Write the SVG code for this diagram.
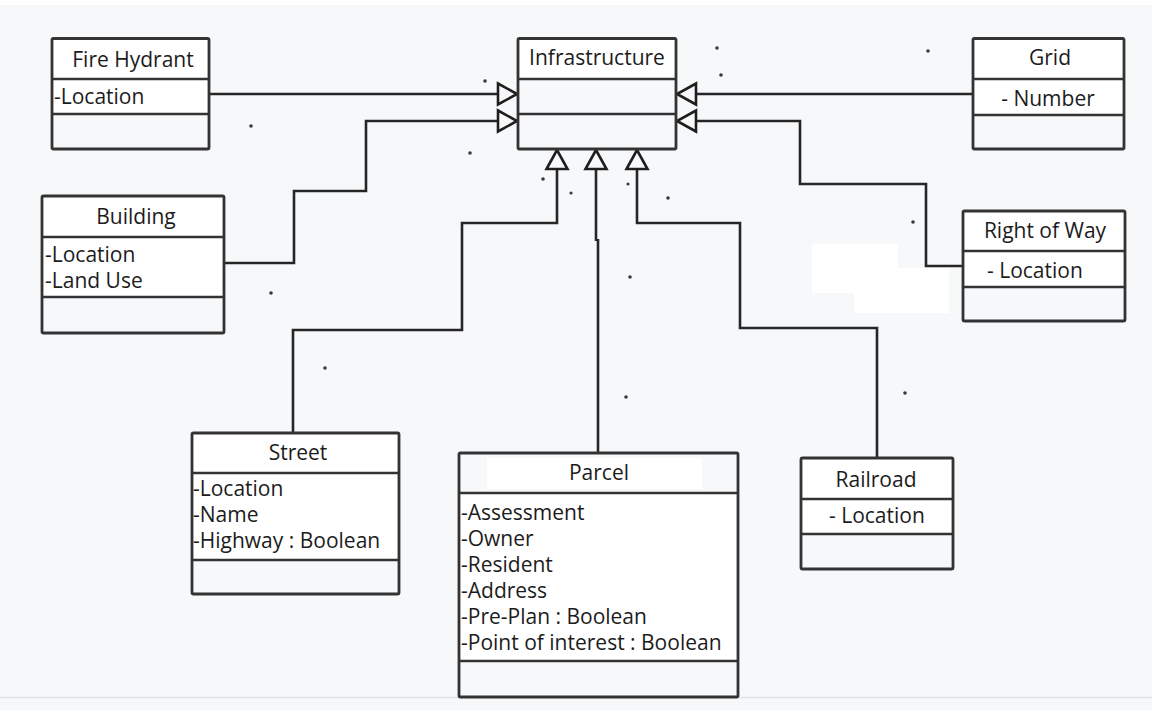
<svg xmlns="http://www.w3.org/2000/svg" width="1152" height="710" viewBox="0 0 1152 710">
  <defs>
    <style>
      .bg { fill: #f7f8fa; }
      .hd, .at { fill: #ffffff; }
      .op { fill: #f7f8fa; }
      .dv { fill: none; stroke: #333; stroke-width: 2.6; }
      .fr { fill: none; stroke: #333; stroke-width: 2.8; }
      .t { font-family: "Open Sans", "Liberation Sans", sans-serif; font-size: 21px; fill: #1c1c1c; }
      .c { text-anchor: middle; }
      .wire { fill: none; stroke: #262626; stroke-width: 2.6; marker-end: url(#gen); }
      .plain { fill: none; stroke: #262626; stroke-width: 2.6; }
      .speck { fill: #3a3a3a; }
      .patch { fill: #ffffff; }
    </style>
    <!-- hollow triangle for generalization -->
    <marker id="gen" viewBox="-3 -14 26 28" markerWidth="26" markerHeight="28" refX="19" refY="0" orient="auto" markerUnits="userSpaceOnUse">
      <path d="M0,-10.5 L19,0 L0,10.5 Z" fill="#f7f8fa" stroke="#1e1e1e" stroke-width="2.6" stroke-linejoin="miter"/>
    </marker>
  </defs>

  <!-- canvas -->
  <rect class="bg" x="0" y="0" width="1152" height="710"/>
  <rect fill="#ffffff" x="0" y="0" width="1152" height="5"/>
  <line x1="0" y1="697.5" x2="1152" y2="697.5" stroke="#e2e3e5" stroke-width="1.5"/>
  <rect class="patch" x="812" y="244" width="86" height="49"/>
  <rect class="patch" x="854" y="268" width="95" height="45"/>

  <!-- stray specks -->
  <g id="specks">
    <circle class="speck" cx="251" cy="126" r="1.8"/>
    <circle class="speck" cx="485" cy="81" r="1.8"/>
    <circle class="speck" cx="470" cy="153" r="1.8"/>
    <circle class="speck" cx="543" cy="179" r="1.8"/>
    <circle class="speck" cx="571" cy="193" r="1.6"/>
    <circle class="speck" cx="628" cy="184" r="1.6"/>
    <circle class="speck" cx="668" cy="198" r="1.8"/>
    <circle class="speck" cx="717" cy="48" r="1.8"/>
    <circle class="speck" cx="721" cy="75" r="1.8"/>
    <circle class="speck" cx="928" cy="51" r="1.8"/>
    <circle class="speck" cx="271" cy="293" r="1.8"/>
    <circle class="speck" cx="325" cy="368" r="1.8"/>
    <circle class="speck" cx="630" cy="277" r="1.8"/>
    <circle class="speck" cx="626" cy="397" r="1.8"/>
    <circle class="speck" cx="913" cy="222" r="1.8"/>
    <circle class="speck" cx="905" cy="393" r="1.8"/>
  </g>

  <!-- connectors -->
  <g id="connectors">
    <path class="wire" d="M209,94 H517"/>
    <path class="wire" d="M973,94 H677"/>
    <path class="wire" d="M224,263 H294 V191 H366 V121 H517"/>
    <path class="wire" d="M963,266 H926 V184 H800 V121 H677"/>
    <path class="wire" d="M293,433 V330 H462 V223 H557 V150"/>
    <path class="plain" d="M598,453 V239"/>
    <path class="wire" d="M596,241 V150"/>
    <path class="wire" d="M877,458 V328 H740 V223 H637 V150"/>
  </g>

  <!-- classes -->
  <g id="infrastructure">
    <rect class="hd" x="518" y="38.5" width="158" height="40.5"/>
    <rect class="op" x="518" y="79" width="158" height="70"/>
    <path class="dv" d="M518,79 H676 M518,114 H676"/>
    <rect class="fr" x="518" y="38.5" width="158" height="110.5" rx="1.5"/>
    <text class="t c" x="597" y="65">Infrastructure</text>
  </g>

  <g id="fire-hydrant">
    <rect class="hd" x="52" y="38.5" width="157" height="75.5"/>
    <rect class="op" x="52" y="114" width="157" height="35"/>
    <path class="dv" d="M52,79 H209 M52,114 H209"/>
    <rect class="fr" x="52" y="38.5" width="157" height="110.5" rx="1.5"/>
    <text class="t c" x="133" y="67">Fire Hydrant</text>
    <text class="t" x="54" y="104">-Location</text>
  </g>

  <g id="grid">
    <rect class="hd" x="973" y="38.5" width="151" height="76.5"/>
    <rect class="op" x="973" y="115" width="151" height="34"/>
    <path class="dv" d="M973,79 H1124 M973,115 H1124"/>
    <rect class="fr" x="973" y="38.5" width="151" height="110.5" rx="1.5"/>
    <text class="t c" x="1050" y="65">Grid</text>
    <text class="t c" x="1048" y="106">- Number</text>
  </g>

  <g id="building">
    <rect class="hd" x="42" y="196" width="182" height="101"/>
    <rect class="op" x="42" y="297" width="182" height="36"/>
    <path class="dv" d="M42,237 H224 M42,297 H224"/>
    <rect class="fr" x="42" y="196" width="182" height="137" rx="1.5"/>
    <text class="t c" x="136" y="224">Building</text>
    <text class="t" x="45" y="262">-Location</text>
    <text class="t" x="45" y="288">-Land Use</text>
  </g>

  <g id="right-of-way">
    <rect class="hd" x="963" y="211" width="162" height="76"/>
    <rect class="op" x="963" y="287" width="162" height="34"/>
    <path class="dv" d="M963,251 H1125 M963,287 H1125"/>
    <rect class="fr" x="963" y="211" width="162" height="110" rx="1.5"/>
    <text class="t c" x="1045" y="238">Right of Way</text>
    <text class="t" x="987" y="278">- Location</text>
  </g>

  <g id="street">
    <rect class="hd" x="192" y="433" width="207" height="127"/>
    <rect class="op" x="192" y="560" width="207" height="34"/>
    <path class="dv" d="M192,473 H399 M192,560 H399"/>
    <rect class="fr" x="192" y="433" width="207" height="161" rx="1.5"/>
    <text class="t c" x="298" y="460">Street</text>
    <text class="t" x="193" y="496">-Location</text>
    <text class="t" x="193" y="522">-Name</text>
    <text class="t" x="193" y="548">-Highway : Boolean</text>
  </g>

  <g id="parcel">
    <rect class="op" x="459" y="453" width="279" height="40"/>
    <rect class="hd" x="487" y="458" width="215" height="31"/>
    <rect class="at" x="459" y="493" width="279" height="168"/>
    <rect class="op" x="459" y="661" width="279" height="36"/>
    <path class="dv" d="M459,493 H738 M459,661 H738"/>
    <rect class="fr" x="459" y="453" width="279" height="244" rx="1.5"/>
    <text class="t c" x="599" y="480">Parcel</text>
    <text class="t" x="461" y="520">-Assessment</text>
    <text class="t" x="461" y="546">-Owner</text>
    <text class="t" x="461" y="572">-Resident</text>
    <text class="t" x="461" y="598">-Address</text>
    <text class="t" x="461" y="624">-Pre-Plan : Boolean</text>
    <text class="t" x="461" y="650">-Point of interest : Boolean</text>
  </g>

  <g id="railroad">
    <rect class="hd" x="801" y="458" width="152" height="76"/>
    <rect class="op" x="801" y="534" width="152" height="35"/>
    <path class="dv" d="M801,499 H953 M801,534 H953"/>
    <rect class="fr" x="801" y="458" width="152" height="111" rx="1.5"/>
    <text class="t c" x="876" y="487">Railroad</text>
    <text class="t" x="829" y="523">- Location</text>
  </g>
</svg>
